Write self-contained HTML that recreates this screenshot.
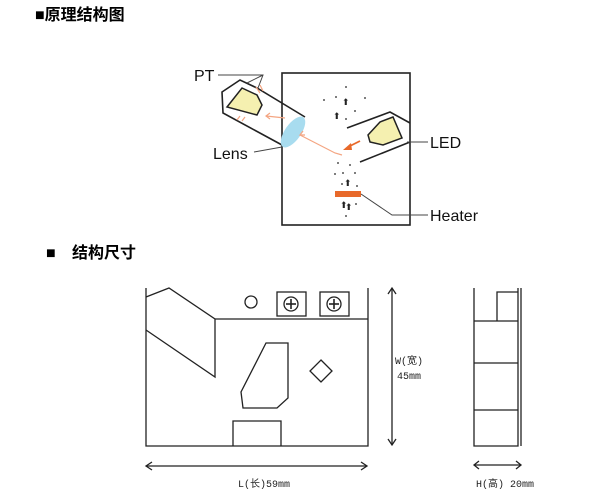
<!DOCTYPE html>
<html><head><meta charset="utf-8"><style>
body{margin:0;background:#fff;width:600px;height:500px;overflow:hidden}
svg{display:block}
</style></head><body>
<svg width="600" height="500" xmlns="http://www.w3.org/2000/svg">
<g font-family="Liberation Sans, Noto Sans CJK SC, sans-serif" font-size="16" fill="#000">
<text x="35" y="20" font-weight="bold">■原理结构图</text>
<text x="46" y="258" font-weight="bold">■</text>
<text x="72" y="258" font-weight="bold">结构尺寸</text>
</g>
<!-- top diagram -->
<g stroke="#222" stroke-width="1.6" fill="none">
<rect x="282" y="73" width="128" height="152"/>
<polyline points="305,117 257,88 240,80 222,92 223,113 282,145"/>
<polyline points="347,128 390,112 410,123"/>
<line x1="360" y1="162" x2="410" y2="142"/>
</g>
<path d="M227,107 L242,88 L257,95 L262,105 L257,115 Z" fill="#f5f0b0" stroke="#222" stroke-width="1.5"/>
<path d="M368,135 L380,122 L393,117 L402,138 L383,145 L370,142 Z" fill="#f5f0b0" stroke="#222" stroke-width="1.5"/>
<ellipse cx="293" cy="132" rx="8" ry="18" transform="rotate(35 293 132)" fill="#a8dcef"/>
<g stroke="#f4a582" stroke-width="1.2" fill="none">
<polyline points="342,155 335,153 300,135"/>
<polyline points="305,135 300,135 303,131"/>
<line x1="285" y1="118" x2="266" y2="116"/>
<polyline points="270,113 266,116 270,119"/>
<line x1="256" y1="87" x2="260" y2="93"/><line x1="260" y1="85" x2="263" y2="91"/>
<line x1="237" y1="120" x2="240" y2="116"/><line x1="242" y1="121" x2="245" y2="117"/>
</g>
<line x1="360" y1="141" x2="348" y2="147" stroke="#e8692a" stroke-width="1.8"/>
<polygon points="343,150 351,143 352,150" fill="#e8692a"/>
<rect x="335" y="191" width="26" height="6" fill="#e8692a"/>
<g fill="#555">
<circle cx="346" cy="87" r="1"/><circle cx="336" cy="97" r="1"/><circle cx="365" cy="98" r="1"/><circle cx="324" cy="100" r="1"/>
<circle cx="355" cy="111" r="1"/><circle cx="346" cy="119" r="1"/><circle cx="338" cy="163" r="1"/><circle cx="350" cy="165" r="1"/>
<circle cx="335" cy="174" r="1"/><circle cx="343" cy="173" r="1"/><circle cx="355" cy="173" r="1"/><circle cx="342" cy="184" r="1"/>
<circle cx="357" cy="186" r="1"/><circle cx="346" cy="216" r="1"/><circle cx="356" cy="204" r="1"/>
</g>
<g font-family="Liberation Sans, sans-serif" font-size="9" fill="#222">
<text x="342" y="105">⬆</text><text x="333" y="119">⬆</text><text x="344" y="186">⬆</text><text x="340" y="208">⬆</text><text x="345" y="210">⬆</text>
</g>
<g stroke="#444" stroke-width="1" fill="none">
<polyline points="218,75 263,75 258,88"/><line x1="263" y1="75" x2="247" y2="83"/>
<line x1="254" y1="152" x2="282" y2="147"/>
<line x1="407" y1="142" x2="428" y2="142"/>
<polyline points="361,194 392,215 428,215"/>
</g>
<g font-family="Liberation Sans, sans-serif" font-size="16" fill="#111">
<text x="194" y="81">PT</text><text x="213" y="159">Lens</text>
<text x="430" y="148">LED</text><text x="430" y="221">Heater</text>
</g>
<!-- dimension drawing -->
<g stroke="#222" stroke-width="1.3" fill="none">
<polyline points="146,288 146,446 368,446 368,288"/>
<line x1="215" y1="319" x2="368" y2="319"/>
<polyline points="146,297 169,288 215,319 215,377 146,330"/>
<circle cx="251" cy="302" r="6"/>
<rect x="277" y="292" width="29" height="24"/><rect x="320" y="292" width="29" height="24"/>
<circle cx="291" cy="304" r="7"/><circle cx="334" cy="304" r="7"/>
<line x1="291" y1="299" x2="291" y2="309" stroke-width="1.6"/><line x1="286" y1="304" x2="296" y2="304" stroke-width="1.6"/>
<line x1="334" y1="299" x2="334" y2="309" stroke-width="1.6"/><line x1="329" y1="304" x2="339" y2="304" stroke-width="1.6"/>
<polygon points="266,343 288,343 288,398 277,408 243,408 241,392"/>
<polygon points="321,360 332,371 321,382 310,371"/>
<polyline points="233,446 233,421 281,421 281,446"/>
<line x1="392" y1="288" x2="392" y2="445"/>
<polyline points="388,294 392,288 396,294"/><polyline points="388,439 392,445 396,439"/>
<line x1="146" y1="466" x2="367" y2="466"/>
<polyline points="152,462 146,466 152,470"/><polyline points="361,462 367,466 361,470"/>
<polyline points="474,288 474,446 518,446 518,288"/>
<line x1="521" y1="288" x2="521" y2="446"/>
<polyline points="497,321 497,292 518,292"/>
<line x1="474" y1="321" x2="518" y2="321"/><line x1="474" y1="363" x2="518" y2="363"/><line x1="474" y1="410" x2="518" y2="410"/>
<line x1="474" y1="465" x2="521" y2="465"/>
<polyline points="479,461 474,465 479,469"/><polyline points="516,461 521,465 516,469"/>
</g>
<g font-family="Liberation Mono, Noto Sans CJK SC, monospace" font-size="10" fill="#222">
<text x="395" y="364">W(宽)</text><text x="397" y="379">45mm</text>
<text x="238" y="487">L(长)59mm</text>
<text x="476" y="487">H(高) 20mm</text>
</g>
</svg>
</body></html>
